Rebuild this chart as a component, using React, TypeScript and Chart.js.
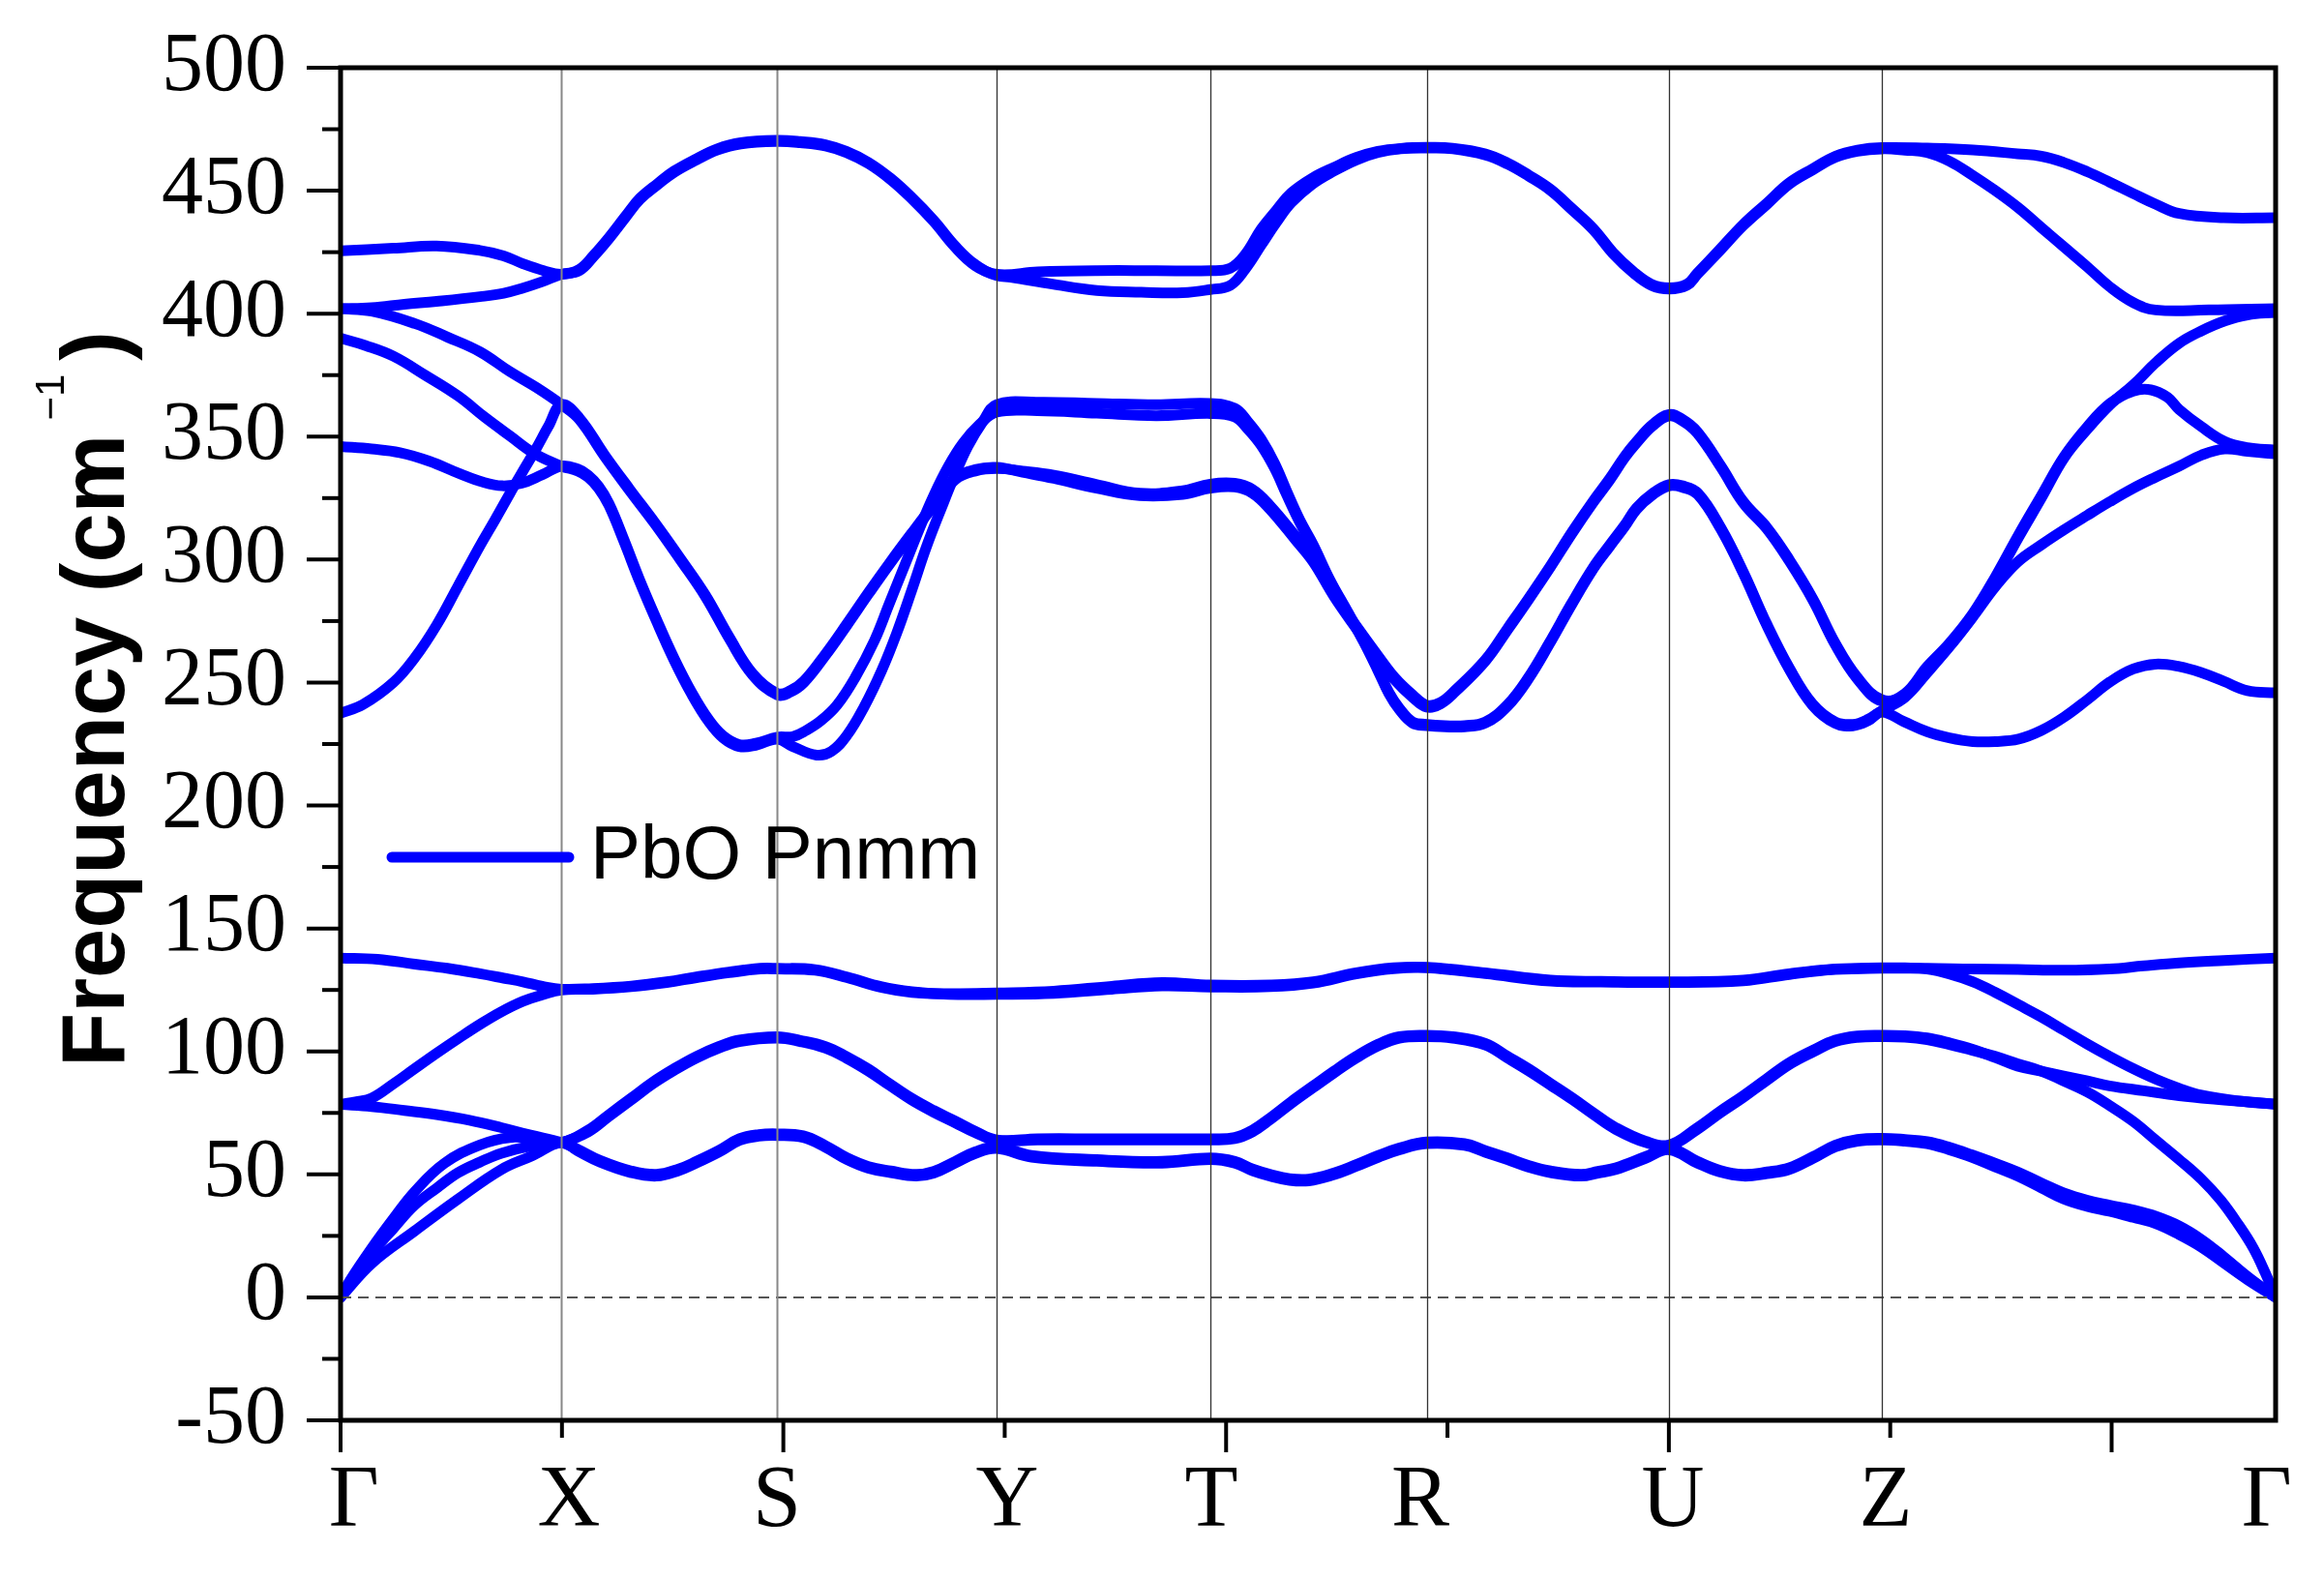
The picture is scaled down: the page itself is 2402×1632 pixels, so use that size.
import React, { useEffect, useRef } from "react";
import { Chart, registerables } from "chart.js";

Chart.register(...registerables);

type Pt = [number, number];

// ---------------- data ----------------
const SERIES_LABEL = "PbO Pnmm";
const Y_TITLE_MAIN = "Frequency (cm";
const Y_TITLE_SUP = "\u22121";
const Y_TITLE_END = ")";

// k-path distance (arb. units) of the high-symmetry points
const kHighSym = [0, 149, 294.5, 442.5, 586.5, 732.5, 896, 1039.5, 1305];
// bottom tick labels and where they are written
const kLabels = ["Γ", "X", "S", "Y", "T", "R", "U", "Z", "Γ"];
const kLabelPos = [9, 154, 294.3, 449.6, 587.3, 728.2, 898.5, 1042, 1299];
// bottom axis tick marks
const kMajorTicks = [0, 298.6, 597.2, 895.8, 1194.4];
const kMinorTicks = [149.3, 447.9, 746.5, 1045.1];
// frequency axis
const yMin = -50;
const yMax = 500;
const yStep = 50;
const yMinorTicks = [-25, 25, 75, 125, 175, 225, 275, 325, 375, 425, 475];

// phonon branches: [k, frequency (cm^-1)]
const band01: Pt[] = [
  [0, 0], [6.5, 7], [21, 20], [35.6, 32], [50, 43], [70, 54.5], [94, 62], [114, 65], [130, 64.5], [149, 63],
  [167, 68], [181, 74.3], [196, 81], [210.5, 87.5], [225, 93], [240, 98], [255, 102], [269, 104.6], [294.5, 106],
  [310, 104.5], [327, 102], [341, 98], [356, 92.8], [370, 87], [385, 81], [400, 76], [414.5, 71.7], [428, 67.5], [442.5, 64],
  [470, 64.5], [510, 64.5], [550, 64.5], [586.5, 64.5],
  [603, 65], [615, 68], [627, 73], [641, 79.5], [656, 86], [670, 92], [685, 98], [700, 103], [714, 106], [732.5, 106.6],
  [750, 106], [772, 103.3], [787, 98], [801.5, 92.8], [816, 87], [831, 81], [845, 75], [860, 69], [880, 63.5], [896, 62],
  [915, 69], [930, 75.5], [946, 82], [962, 89], [977, 95.4], [993, 100.5], [1008, 104.6], [1023, 106.3], [1039.5, 106.6],
  [1055, 106.4], [1070, 105.5], [1085, 103.5], [1100, 101], [1116, 97.5], [1131, 94], [1147, 92], [1162, 90], [1178, 88],
  [1193, 86], [1216, 84], [1240, 82], [1265, 80.5], [1286, 79.5], [1305, 78.5],
];
const band02: Pt[] = [
  [0, 0], [21, 17.8], [35.6, 28], [50, 37.5], [65, 44.5], [79.3, 50.7], [94, 55], [108.5, 58.6], [128, 61.5], [149, 63],
  [167, 67.3], [181, 73.6], [196, 80.3], [210.5, 86.8], [225, 92.3], [240, 97.3], [255, 101.3], [269, 104], [294.5, 105.4],
  [310, 104], [327, 101.3], [341, 97.3], [356, 92], [370, 86.3], [385, 80.3], [400, 75.3], [414.5, 71], [428, 67], [442.5, 63.8],
  [470, 64], [510, 64], [550, 64], [586.5, 64],
  [603, 64.5], [615, 67.3], [627, 72.3], [641, 78.8], [656, 85.3], [670, 91.3], [685, 97.3], [700, 102.3], [714, 105.4], [732.5, 106],
  [750, 105.4], [772, 102.6], [787, 97.3], [801.5, 92], [816, 86.3], [831, 80.3], [845, 74.3], [860, 68.3], [880, 63], [896, 61.6],
  [915, 68.3], [930, 74.8], [946, 81.3], [962, 88.3], [977, 94.7], [993, 99.8], [1008, 104], [1023, 105.7], [1039.5, 106],
  [1055, 105.8], [1070, 104.8], [1085, 102.8], [1100, 100.5], [1116, 98], [1131, 95], [1147, 92], [1162, 88], [1178, 83.5],
  [1193, 78], [1209, 71.5], [1224, 64], [1240, 56], [1255, 48], [1268, 39.5], [1280, 29.5], [1290, 20], [1298, 10], [1305, 0],
];
const band03: Pt[] = [
  [0, 0], [21, 13.8], [50, 27], [79.3, 40], [108.5, 52], [129, 57.5], [149, 63],
  [160, 59.5], [175, 55], [196, 50.7], [213, 49.3], [228, 51.5], [240, 54.6], [255, 59], [269, 63.8], [282, 65.5], [294.5, 65.8],
  [312, 65], [327, 61], [341.6, 56], [356, 52.5], [371, 50.7], [388, 49.3], [400, 50.5], [414.5, 54.6], [428, 58.5], [442.5, 60.5],
  [466, 57], [510, 55.3], [554, 54.6], [586.5, 56],
  [603, 54.6], [615, 51.5], [627, 49.3], [640, 47.6], [653, 47.4], [668, 49.5], [685, 53.3], [700, 57], [714, 60], [732.5, 62.5],
  [758, 61.8], [772, 59], [787, 56], [801, 53], [816, 50.7], [836.5, 49.3], [848, 50.5], [860, 52], [880, 56.5], [896, 60],
  [915, 54.6], [930, 51], [946, 49.3], [962, 50.3], [977, 52], [993, 56.5], [1008, 61.2], [1023, 63.5], [1039.5, 64],
  [1055, 63.5], [1070, 62.5], [1085, 60], [1100, 57], [1116, 53], [1131, 49.3], [1147, 44.5], [1162, 40], [1178, 37],
  [1193, 35], [1209, 32.5], [1224, 30], [1240, 25.5], [1255, 20.4], [1270, 14], [1286, 7.2], [1305, 0],
];
const band04: Pt[] = [
  [0, 78.5], [21, 77.6], [43, 76], [64.8, 74.3], [87, 72], [108.5, 69], [128, 66], [149, 63],
  [160, 60.2], [175, 55.7], [196, 51.4], [213, 50], [228, 52.2], [240, 55.3], [255, 59.7], [269, 64.5], [282, 66.2], [294.5, 66.5],
  [312, 65.7], [327, 61.7], [341.6, 56.7], [356, 53.2], [371, 51.4], [388, 50], [400, 51.2], [414.5, 55.3], [428, 59.2], [442.5, 61.2],
  [466, 57.7], [510, 56], [554, 55.3], [586.5, 56.7],
  [603, 55.3], [615, 52.2], [627, 50], [640, 48.3], [653, 48.1], [668, 50.2], [685, 54], [700, 57.7], [714, 60.7], [732.5, 63.2],
  [758, 62.5], [772, 59.7], [787, 56.7], [801, 53.7], [816, 51.4], [836.5, 50], [848, 51.2], [860, 52.7], [880, 57.2], [896, 60.7],
  [915, 55.3], [930, 51.7], [946, 50], [962, 51], [977, 52.7], [993, 57.2], [1008, 61.9], [1023, 64.2], [1039.5, 64.7],
  [1055, 64.2], [1070, 63.3], [1085, 61], [1100, 58], [1116, 54.5], [1131, 51], [1147, 46.5], [1162, 42.5], [1178, 39.5],
  [1193, 37.5], [1209, 35.5], [1224, 33], [1240, 29], [1255, 23.5], [1270, 16.5], [1286, 8.5], [1305, 0],
];
const band05: Pt[] = [
  [0, 78.5], [10, 79.5], [21, 81], [35.6, 86.8], [50, 93], [64.8, 99.3], [80, 105.5], [94, 111], [108, 116], [123, 120.4], [136, 123], [149, 125],
  [170, 125.3], [196, 126.3], [220, 128], [240, 130], [262, 132], [283, 133.5], [294.5, 133.5],
  [320, 133], [341.6, 130], [365, 126], [385.3, 124], [410, 123.5], [442.5, 123.8],
  [481, 124.5], [520, 126.5], [554, 128], [586.5, 127],
  [627, 127], [656, 128.3], [685, 132], [710, 134], [732.5, 134.2],
  [772, 132], [816, 129], [850, 128.5], [896, 128.3],
  [946, 129], [977, 131.6], [1008, 133.5], [1039.5, 134],
  [1055, 134], [1070, 133.5], [1085, 131.5], [1101, 128.3], [1116, 124], [1131.6, 119], [1147, 114], [1162.5, 108.5],
  [1178, 103], [1193, 98], [1209, 93], [1224, 88.8], [1240, 85], [1255, 82.2], [1280, 79.8], [1305, 78.5],
];
const band06: Pt[] = [
  [0, 138], [25, 137.5], [50, 135.5], [72, 133.8], [94, 131.6], [110, 129.8], [123, 128.3], [136, 126.5], [149, 125.3],
  [170, 125.6], [196, 126.6], [220, 128.3], [240, 130.3], [262, 132.3], [283, 133.8], [294.5, 133.8],
  [320, 133.3], [341.6, 130.3], [365, 126.3], [385.3, 124.3], [410, 123.2], [442.5, 123.2],
  [481, 123.6], [520, 125.3], [554, 126.6], [586.5, 126.2],
  [627, 126.3], [656, 127.8], [685, 131.5], [710, 133.6], [732.5, 134],
  [772, 131.6], [816, 128.6], [850, 128.2], [896, 128],
  [946, 128.7], [977, 131.3], [1008, 133.3], [1039.5, 133.8],
  [1070, 133.8], [1100, 133.5], [1131, 133.3], [1162, 133], [1193, 133.5], [1216, 134.8], [1240, 136], [1270, 137], [1305, 138],
];
const band07: Pt[] = [
  [0, 425.5], [35.6, 426.6], [64.8, 427.5], [94, 425.7], [110, 423.5], [123, 420.3], [137, 417.5], [149, 416],
  [161, 418], [171, 424], [181, 431], [192, 439.5], [202, 447], [214, 453], [225, 458], [240, 463], [254, 467], [270, 469.5], [294.5, 470.5],
  [310, 470], [327, 468.7], [341, 466], [356, 461.5], [371, 455], [385.3, 447.2], [400, 438], [414.5, 427.5], [428, 420], [442.5, 416],
  [470, 417], [510, 417.5], [550, 417.5], [586.5, 417.5],
  [600, 418.5], [610, 424], [621, 434.5], [631, 442], [641, 449], [655, 455], [670, 459.5], [685, 463.5], [699.5, 466], [715, 467.2], [732.5, 467.6],
  [750, 467.3], [772, 465], [787, 461.3], [801, 456.5], [816, 450.6], [830, 443], [845, 434.5], [858, 425], [872, 417], [884, 412], [896, 410.5],
  [908, 412], [915, 416.5], [930, 426], [946, 436.3], [962, 445], [977, 453.2], [993, 459], [1008, 464], [1023, 466.5], [1039.5, 467.5],
  [1070, 467.3], [1101, 466.6], [1131, 465], [1147, 464], [1162, 461.5], [1178, 457.7], [1193, 453.5], [1209, 448.8], [1224, 444.5],
  [1240, 440.7], [1270, 439], [1305, 439],
];
const band08: Pt[] = [
  [0, 402], [21, 402.4], [43, 403.8], [64.8, 405], [94, 406.9], [110, 408.3], [123, 410.4], [136, 413], [149, 416],
  [161, 417.5], [171, 423.5], [181, 430.5], [192, 439], [202, 446.5], [214, 452.5], [225, 457.5], [240, 462.5], [254, 466.5], [270, 469], [294.5, 470],
  [310, 469.5], [327, 468.2], [341, 465.5], [356, 461], [371, 454.5], [385.3, 446.7], [400, 437.5], [414.5, 427], [428, 419.5], [442.5, 415.5],
  [452, 414.8], [480, 412], [510, 409.4], [540, 408.7], [568, 408.5], [586.5, 409.8],
  [600, 411.5], [610, 418], [621, 428], [631, 437], [641, 445], [655, 452.5], [670, 458], [685, 462.5], [699.5, 465.5], [715, 467], [732.5, 467.3],
  [750, 467], [772, 464.5], [787, 460.8], [801, 456], [816, 450.1], [830, 442.5], [845, 434], [858, 424.5], [872, 416.5], [884, 411.5], [896, 410],
  [908, 411.5], [915, 416], [930, 425.5], [946, 435.8], [962, 444.5], [977, 452.7], [993, 458.5], [1008, 463.5], [1023, 466], [1039.5, 467],
  [1055, 466.5], [1070, 465.5], [1085, 462], [1100, 456.5], [1116, 450], [1131.6, 443], [1147, 435], [1162.5, 427], [1178, 419],
  [1193, 411], [1209, 404.5], [1224, 401.5], [1260, 401.5], [1305, 402],
];
const band09: Pt[] = [
  [0, 402], [21, 401], [50, 396], [72, 390.5], [94, 384.5], [114, 376.5], [132, 370], [149, 363],
  [161, 357], [178, 342], [195, 328], [212, 314.5], [229, 300], [246, 285], [262, 268], [278, 253], [294.5, 245],
  [303, 246], [312.5, 250], [327, 261], [341.6, 273.4], [356, 286], [370.7, 298.5], [385, 310], [399.9, 321.7], [414.5, 332.5], [428, 336], [442.5, 337],
  [460, 336], [481, 334.3], [510, 330.5], [539, 327], [568, 328], [586.5, 330.7],
  [603, 331], [615, 328.5], [626.7, 322], [644, 309.6], [656, 300.5], [670, 286], [685, 273], [699.5, 261], [711, 252], [723, 245], [732.5, 240.8],
  [742, 242], [752, 247], [772.4, 259.5], [787, 272], [801.5, 284.5], [816, 297.5], [830.7, 311.4], [845, 324], [856, 333], [866, 342], [874, 348], [885, 355], [896, 359],
  [905, 357], [915, 352], [931, 338], [946, 323.6], [962, 313], [977, 300], [993, 284], [1008, 266], [1023, 252], [1039.5, 243],
  [1055, 245], [1070, 255.7], [1085, 265], [1100.7, 277], [1116, 292], [1131.6, 309], [1147, 325], [1162.5, 341.5], [1178, 353],
  [1193.4, 363], [1209, 371], [1224, 380], [1240, 388], [1255, 393], [1270.6, 397], [1286, 399.5], [1305, 400.5],
];
const band10: Pt[] = [
  [0, 237.5], [15, 241], [35.6, 250], [50, 260], [64.8, 273.4], [79, 289], [94, 305.6], [104, 316], [114.3, 327], [123, 336], [131.8, 345], [140, 354], [149, 363],
  [161, 357.6], [178, 342.6], [195, 328.6], [212, 315], [229, 300.6], [246, 285.6], [262, 268.6], [278, 253.6], [294.5, 245.6],
  [303, 246.6], [312.5, 250.6], [327, 261.6], [341.6, 274], [356, 286.6], [370.7, 299], [385, 310.6], [399.9, 322.3], [414.5, 333], [428, 336.6], [442.5, 337.5],
  [460, 335.5], [481, 333], [510, 329], [539, 326], [568, 326.5], [586.5, 329],
  [603, 329.5], [615, 327], [626.7, 320.5], [644, 308], [656, 299], [670, 285], [685, 272], [699.5, 260], [711, 251], [723, 244], [732.5, 240],
  [742, 241.4], [752, 246.4], [772.4, 259], [787, 271.4], [801.5, 284], [816, 297], [830.7, 310.8], [845, 323.4], [856, 332.4], [866, 341.4], [874, 347.4], [885, 354.4], [896, 358.4],
  [905, 356.4], [915, 351.4], [931, 337.4], [946, 323], [962, 312.4], [977, 299.4], [993, 283.4], [1008, 265.4], [1023, 251.4], [1039.5, 242.4],
  [1055, 245.5], [1070, 256.5], [1085, 266], [1100.7, 278], [1116, 293], [1131.6, 310], [1147, 326], [1162.5, 342], [1178, 354],
  [1193.4, 363.5], [1209, 368.5], [1221, 369], [1232, 366], [1240, 361], [1255, 354], [1270.6, 348], [1286, 345.5], [1305, 344.5],
];
const band11: Pt[] = [
  [0, 390], [17, 387], [35.6, 382.7], [57, 375], [79.3, 366.5], [97, 358], [114, 350.4], [131, 343], [149, 338],
  [160, 336], [167, 333.5], [174, 329], [181, 322], [191, 307.5], [201.7, 291], [213, 275], [225, 259], [237, 245], [248.4, 234], [258, 227.5], [268.8, 224], [280, 224.5], [294.5, 227],
  [305, 224], [321, 220.5], [331, 222], [341.6, 228.6], [353, 240], [365, 255], [375, 270], [385.3, 287.7], [395, 305], [405.7, 321.7], [414, 334], [423, 346], [433, 356], [442.5, 363],
  [470, 364], [510, 363.5], [550, 363], [586.5, 363.5],
  [603, 361.5], [612, 356], [620.8, 349], [630, 339], [638.3, 327.5], [647, 316], [656, 306], [667, 292], [679, 279], [690, 267], [699.5, 255.6], [707, 246], [714, 239.6], [723, 234], [732.5, 233],
  [745, 232.5], [758, 232.5], [772, 234], [787, 241], [801, 252], [815, 266], [830, 282], [845, 297], [856, 306], [866, 314], [874, 321], [885, 327], [896, 330.5],
  [905, 330], [915.4, 327], [930.8, 313], [946, 295], [961.7, 274], [977, 256], [992.6, 241.4], [1008, 234], [1020, 233], [1030, 235], [1039.5, 238.6],
  [1055, 244], [1070, 254], [1085, 264.5], [1100, 276], [1116, 289], [1131, 299], [1147, 306], [1162, 312], [1178, 318],
  [1193, 323.5], [1209, 329], [1224, 333.5], [1240, 338], [1255, 342.5], [1270.6, 345], [1286, 344], [1305, 343],
];
const band12: Pt[] = [
  [0, 346], [21, 345], [40, 343.5], [60, 340], [80, 335], [96, 331.5], [109, 330], [122, 331], [136, 334.5], [149, 338],
  [160, 336.8], [167, 334.3], [174, 329.8], [181, 322.8], [191, 308.3], [201.7, 291.8], [213, 275.8], [225, 259.8], [237, 245.8], [248.4, 234.8], [258, 228.3], [268.8, 224.8], [280, 225.3], [294.5, 227.8],
  [305, 228], [314, 230.5], [324, 234.5], [335, 241], [347, 252], [360, 267], [370, 282], [380, 297], [390, 312], [400, 326], [410, 338], [420, 347.5], [431, 355], [442.5, 360],
  [470, 360.5], [510, 359.5], [550, 358.5], [586.5, 359.4],
  [603, 358], [612, 353], [620.8, 346.5], [630, 337], [638.3, 326], [647, 315], [656, 305], [667, 291.5], [679, 278.5], [690, 266.5], [699.5, 255], [707, 245.5], [714, 239], [723, 233.5], [732.5, 232.5],
  [745, 232], [758, 232], [772, 233.5], [787, 240.4], [801, 251.4], [815, 265.4], [830, 281.4], [845, 296.4], [856, 305.4], [866, 313.4], [874, 320.4], [885, 326.4], [896, 330],
  [905, 329.4], [915.4, 326.4], [930.8, 312.4], [946, 294.4], [961.7, 273.4], [977, 255.4], [992.6, 240.8], [1008, 233.4], [1020, 232.4], [1030, 234.4], [1039.5, 238],
  [1054, 234.2], [1070, 230], [1085, 227.5], [1100.7, 226], [1116, 226], [1131.6, 227], [1147, 230.5], [1162.5, 236], [1178, 243],
  [1193.4, 250.3], [1209, 255.5], [1224, 257.5], [1240, 256.5], [1255, 254], [1270, 250.5], [1286, 246.7], [1305, 245.8],
];

const bands: Pt[][] = [band01, band02, band03, band04, band05, band06, band07, band08, band09, band10, band11, band12];

// ---------------- styles ----------------
const LINE_BLUE = "#0000ff";
const SERIF = '"Liberation Serif", "Times New Roman", serif';
const SANS = '"Liberation Sans", Arial, sans-serif';
const CLEAR = "rgba(0,0,0,0)";

const decorPlugin = {
  id: "decor",
  afterDatasetsDraw(chart: any) {
    const { ctx, chartArea: a, scales } = chart;
    const x = scales.x;
    const y = scales.y;
    ctx.save();
    // zero line
    const y0 = y.getPixelForValue(0);
    ctx.setLineDash([11, 7]);
    ctx.strokeStyle = "#555";
    ctx.lineWidth = 2;
    ctx.beginPath();
    ctx.moveTo(a.left, y0);
    ctx.lineTo(a.right, y0);
    ctx.stroke();
    ctx.setLineDash([]);
    // high-symmetry verticals
    kHighSym.slice(1, -1).forEach((k, i) => {
      const px = Math.round(x.getPixelForValue(k)) + 0.5;
      ctx.strokeStyle = i < 2 ? "#888" : "#333";
      ctx.lineWidth = i < 2 ? 2 : 1.3;
      ctx.beginPath();
      ctx.moveTo(px, a.top);
      ctx.lineTo(px, a.bottom);
      ctx.stroke();
    });
    ctx.restore();
  },
  afterDraw(chart: any) {
    const { ctx, chartArea: a, scales } = chart;
    const x = scales.x;
    const y = scales.y;
    ctx.save();
    ctx.strokeStyle = "#000";
    // ticks on y axis
    ctx.lineWidth = 4;
    for (let v = yMin; v <= yMax; v += yStep) {
      const py = y.getPixelForValue(v);
      ctx.beginPath();
      ctx.moveTo(a.left - 35, py);
      ctx.lineTo(a.left, py);
      ctx.stroke();
    }
    yMinorTicks.forEach((v) => {
      const py = y.getPixelForValue(v);
      ctx.beginPath();
      ctx.moveTo(a.left - 19, py);
      ctx.lineTo(a.left, py);
      ctx.stroke();
    });
    // ticks on x axis
    kMajorTicks.forEach((k) => {
      const px = x.getPixelForValue(k);
      ctx.beginPath();
      ctx.moveTo(px, a.bottom);
      ctx.lineTo(px, a.bottom + 33);
      ctx.stroke();
    });
    kMinorTicks.forEach((k) => {
      const px = x.getPixelForValue(k);
      ctx.beginPath();
      ctx.moveTo(px, a.bottom);
      ctx.lineTo(px, a.bottom + 18);
      ctx.stroke();
    });
    // frame
    ctx.lineWidth = 5;
    ctx.strokeRect(a.left, a.top, a.right - a.left, a.bottom - a.top);

    // y-axis title with superscript
    ctx.fillStyle = "#000";
    ctx.translate(128, 1103);
    ctx.rotate(-Math.PI / 2);
    ctx.textBaseline = "alphabetic";
    ctx.textAlign = "left";
    ctx.font = `bold 92px ${SANS}`;
    ctx.fillText(Y_TITLE_MAIN, 0, 0);
    let pos = ctx.measureText(Y_TITLE_MAIN).width + 14;
    ctx.font = `42px ${SANS}`;
    ctx.fillText(Y_TITLE_SUP, pos, -62);
    pos += ctx.measureText(Y_TITLE_SUP).width + 14;
    ctx.font = `bold 92px ${SANS}`;
    ctx.fillText(Y_TITLE_END, pos, 0);
    ctx.restore();

    // legend
    const ds = chart.data.datasets[0];
    ctx.save();
    ctx.strokeStyle = ds.borderColor;
    ctx.lineWidth = 11;
    ctx.lineCap = "round";
    ctx.beginPath();
    ctx.moveTo(405, 886);
    ctx.lineTo(588, 886);
    ctx.stroke();
    ctx.fillStyle = "#000";
    ctx.font = `78px ${SANS}`;
    ctx.textBaseline = "middle";
    ctx.textAlign = "left";
    ctx.fillText(ds.label, 610, 886);
    ctx.restore();
  },
};

export default function App() {
  const ref = useRef<HTMLCanvasElement | null>(null);

  useEffect(() => {
    document.body.style.margin = "0";
    const canvas = ref.current;
    if (!canvas) return;
    const chart = new Chart(canvas, {
      type: "line",
      data: {
        datasets: bands.map((b) => ({
          label: SERIES_LABEL,
          data: b.map(([k, f]) => ({ x: k, y: f })),
          borderColor: LINE_BLUE,
          backgroundColor: LINE_BLUE,
          borderWidth: 11,
          pointRadius: 0,
          pointHoverRadius: 0,
          fill: false,
          tension: 0.4,
          borderCapStyle: "round" as const,
          borderJoinStyle: "round" as const,
        })),
      },
      options: {
        animation: false,
        responsive: true,
        maintainAspectRatio: false,
        events: [],
        layout: { padding: { top: 70, right: 50, left: 0, bottom: 0 } },
        plugins: {
          legend: { display: false },
          tooltip: { enabled: false },
          title: { display: false },
        },
        scales: {
          x: {
            type: "linear",
            min: kHighSym[0],
            max: kHighSym[kHighSym.length - 1],
            grid: {
              display: true,
              drawOnChartArea: false,
              drawTicks: true,
              tickLength: 31,
              color: CLEAR,
              tickColor: CLEAR,
            },
            border: { display: false },
            afterBuildTicks: (s: any) => {
              s.ticks = kLabelPos.map((v) => ({ value: v }));
            },
            afterFit: (s: any) => {
              s.height = 164;
            },
            ticks: {
              autoSkip: false,
              maxRotation: 0,
              minRotation: 0,
              padding: 0,
              color: "#000",
              font: { family: SERIF, size: 90 },
              callback: (_v: any, i: number) => kLabels[i],
            },
          },
          y: {
            type: "linear",
            min: yMin,
            max: yMax,
            grid: {
              display: true,
              drawOnChartArea: false,
              drawTicks: true,
              tickLength: 56,
              color: CLEAR,
              tickColor: CLEAR,
            },
            border: { display: false },
            afterFit: (s: any) => {
              s.width = 352;
            },
            ticks: {
              stepSize: yStep,
              padding: 0,
              color: "#000",
              font: { family: SERIF, size: 86 },
            },
          },
        },
      },
      plugins: [decorPlugin],
    });
    return () => chart.destroy();
  }, []);

  return (
    <div
      style={{
        position: "fixed",
        left: 0,
        top: 0,
        width: "2402px",
        height: "1632px",
        background: "#fff",
      }}
    >
      <canvas ref={ref} />
    </div>
  );
}
